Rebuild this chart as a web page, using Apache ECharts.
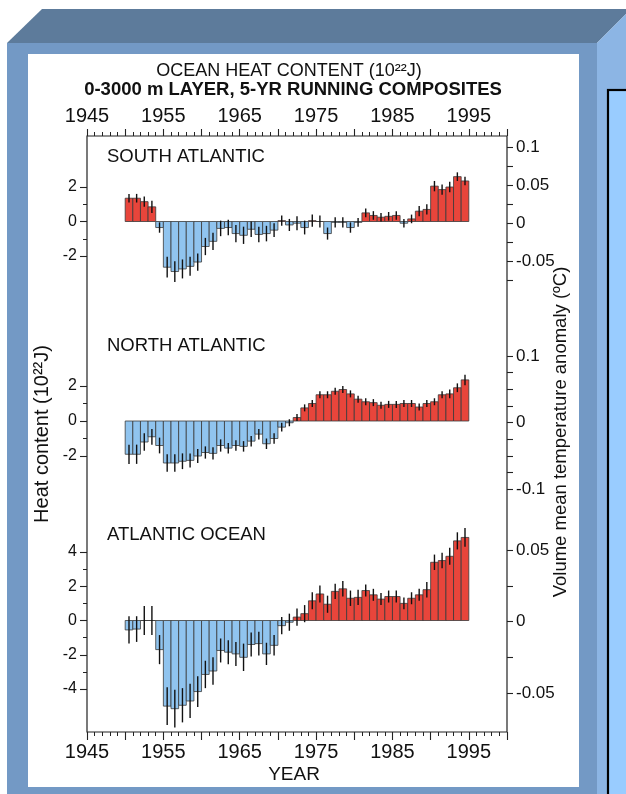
<!DOCTYPE html>
<html>
<head>
<meta charset="utf-8">
<script src="https://cdn.jsdelivr.net/npm/echarts@6/dist/echarts.min.js"></script>
<style>
  html, body { margin: 0; padding: 0; background: #fff; }
  #wrap { position: relative; width: 626px; height: 794px; overflow: hidden; }
  #bg, #chart { position: absolute; left: 0; top: 0; width: 626px; height: 794px; }
</style>
</head>
<body>
<div id="wrap">
  <svg id="bg" width="626" height="794" xmlns="http://www.w3.org/2000/svg">
    <rect x="0" y="0" width="626" height="794" fill="#ffffff"/>
    <polygon points="7,43 42,9 626,9 626,14 597,43" fill="#5d7b9b"/>
    <rect x="7" y="43" width="590" height="751" fill="#7399c5"/>
    <polygon points="597,43 626,14 626,794 597,794" fill="#8cb5e4"/>
    <rect x="28" y="54" width="551" height="733" fill="#ffffff"/>
    <rect x="608" y="90" width="30" height="720" fill="#99ccff" stroke="#000" stroke-width="2.2"/>
  </svg>
  <div id="chart"></div>
</div>
<script>
// ---- data (heat content anomaly, 10^22 J, 5-yr running composites) ----
const years = [1950,1951,1952,1953,1954,1955,1956,1957,1958,1959,
               1960,1961,1962,1963,1964,1965,1966,1967,1968,1969,
               1970,1971,1972,1973,1974,1975,1976,1977,1978,1979,
               1980,1981,1982,1983,1984,1985,1986,1987,1988,1989,
               1990,1991,1992,1993,1994];
const southAtlantic = [1.35,1.35,1.15,0.85,-0.35,-2.65,-2.9,-2.75,-2.6,-2.35,
                       -1.45,-1.15,-0.4,-0.35,-0.7,-0.8,-0.45,-0.75,-0.7,-0.5,
                       0.05,-0.2,-0.1,-0.35,0.05,0,-0.7,-0.05,-0.05,-0.35,
                       -0.05,0.5,0.35,0.25,0.3,0.35,-0.1,0.15,0.6,0.7,
                       2.05,1.85,2.0,2.6,2.35];
const southAtlanticErr = [0.25,0.25,0.3,0.35,0.3,0.6,0.6,0.55,0.55,0.5,
                          0.5,0.5,0.45,0.45,0.5,0.5,0.45,0.45,0.45,0.4,
                          0.3,0.35,0.4,0.4,0.35,0.35,0.35,0.3,0.3,0.3,
                          0.25,0.25,0.25,0.25,0.25,0.25,0.25,0.25,0.3,0.3,
                          0.3,0.3,0.3,0.25,0.25];
const northAtlantic = [-1.9,-1.9,-1.2,-0.9,-1.4,-2.4,-2.4,-2.3,-2.25,-2.0,
                       -1.8,-1.85,-1.4,-1.55,-1.4,-1.45,-1.15,-0.75,-1.3,-1.0,
                       -0.35,-0.1,0.2,0.75,1.0,1.5,1.5,1.7,1.8,1.55,
                       1.25,1.1,1.05,0.9,0.95,0.95,1.0,1.0,0.8,1.0,
                       1.1,1.5,1.55,1.9,2.35];
const northAtlanticErr = [0.55,0.55,0.5,0.45,0.45,0.5,0.5,0.45,0.4,0.4,
                          0.35,0.35,0.35,0.3,0.3,0.3,0.3,0.3,0.3,0.3,
                          0.25,0.2,0.2,0.2,0.2,0.2,0.2,0.2,0.2,0.2,
                          0.2,0.2,0.2,0.2,0.2,0.2,0.2,0.2,0.2,0.2,
                          0.2,0.2,0.25,0.25,0.3];
const atlanticOcean = [-0.55,-0.5,0,0,-1.7,-5.0,-5.15,-4.95,-4.7,-4.15,
                       -3.15,-2.95,-1.75,-1.85,-1.95,-2.15,-1.4,-1.35,-1.95,-1.45,
                       -0.3,-0.1,0.2,0.4,1.15,1.55,0.95,1.7,1.85,1.3,
                       1.35,1.75,1.5,1.25,1.4,1.4,1.0,1.3,1.5,1.8,
                       3.4,3.5,3.75,4.65,4.85];
const atlanticOceanErr = [0.8,0.75,0.85,0.85,0.85,1.1,1.1,1.0,1.0,0.9,
                          0.8,0.8,0.7,0.7,0.7,0.8,0.7,0.7,0.65,0.6,
                          0.5,0.5,0.5,0.5,0.5,0.5,0.5,0.45,0.45,0.45,
                          0.45,0.35,0.35,0.35,0.35,0.35,0.35,0.35,0.35,0.45,
                          0.45,0.45,0.5,0.5,0.55];
const panelNames = ['SOUTH ATLANTIC', 'NORTH ATLANTIC', 'ATLANTIC OCEAN'];
const yearTickLabels = [1945, 1955, 1965, 1975, 1985, 1995];

// ---- style ----
const FONT = "'Liberation Sans', Arial, Helvetica, sans-serif";
const RED = '#e8453b';
const BLUE = '#90c4ef';
const INK = '#111';
const PL = 87, PW = 420;   // plot left & width

// panel layouts: left axis (heat content) and right axis (temperature)
const panels = [
  { data: southAtlantic, err: southAtlanticErr,
    left:  { top: 187, height: 69,  min: -2, max: 2, interval: 2 },
    right: { top: 147, height: 133, min: -0.075, max: 0.1, interval: 0.025, labelStep: 0.05 },
    labelY: 157 },
  { data: northAtlantic, err: northAtlanticErr,
    left:  { top: 386, height: 70,  min: -2, max: 2, interval: 2 },
    right: { top: 356, height: 133, min: -0.1, max: 0.1, interval: 0.025, labelStep: 0.1 },
    labelY: 346 },
  { data: atlanticOcean, err: atlanticOceanErr,
    left:  { top: 552, height: 137, min: -4, max: 4, interval: 2 },
    right: { top: 550, height: 143, min: -0.05, max: 0.05, interval: 0.025, labelStep: 0.05 },
    labelY: 535 }
];

const grid = [{ left: PL, top: 136, width: PW, height: 596, show: true,
                borderColor: '#222', borderWidth: 1.2, backgroundColor: 'transparent' }];
const xAxis = [];
const yAxis = [];
const series = [];

function yearFmt(v) { return yearTickLabels.indexOf(Math.round(v)) >= 0 ? String(Math.round(v)) : ''; }
['bottom', 'top'].forEach(function (pos) {
  xAxis.push({
    type: 'value', gridIndex: 0, position: pos, min: 1945, max: 2000, interval: 5,
    axisLine: { show: false },
    axisTick: { show: true, length: pos === 'bottom' ? 8 : 7, lineStyle: { color: '#222', width: 1.1 } },
    minorTick: { show: true, splitNumber: 5, length: 4, lineStyle: { color: '#222', width: 1 } },
    splitLine: { show: false }, minorSplitLine: { show: false },
    axisLabel: { formatter: yearFmt, margin: 10, fontSize: 20, color: INK, fontFamily: FONT,
                 showMinLabel: true, showMaxLabel: true }
  });
});
yAxis.push({ type: 'value', gridIndex: 0, show: false, min: 0, max: 1 });

function renderBar(params, api) {
  const x = api.value(0), v = api.value(1), e = api.value(2);
  const p0 = api.coord([x, 0]);
  const p1 = api.coord([x + 1, v]);
  const a = api.coord([x + 0.5, v + e]);
  const b = api.coord([x + 0.5, v - e]);
  return {
    type: 'group',
    children: [
      { type: 'rect',
        shape: { x: p0[0], y: Math.min(p0[1], p1[1]), width: p1[0] - p0[0], height: Math.abs(p1[1] - p0[1]) },
        style: { fill: v >= 0 ? RED : BLUE, stroke: '#3a3a3a', lineWidth: 0.8 } },
      { type: 'line', shape: { x1: a[0], y1: a[1], x2: b[0], y2: b[1] },
        style: { stroke: INK, lineWidth: 1.4 } }
    ]
  };
}

panels.forEach(function (p, i) {
  // left grid with bars
  const gl = grid.length;
  grid.push({ left: PL, width: PW, top: p.left.top, height: p.left.height });
  xAxis.push({ type: 'value', gridIndex: gl, min: 1945, max: 2000, show: false });
  yAxis.push({
    type: 'value', gridIndex: gl, position: 'left', min: p.left.min, max: p.left.max, interval: p.left.interval,
    axisLine: { show: false },
    axisTick: { show: true, length: 7, lineStyle: { color: '#222', width: 1.1 } },
    minorTick: { show: true, splitNumber: 2, length: 4, lineStyle: { color: '#222', width: 1 } },
    splitLine: { show: false }, minorSplitLine: { show: false },
    axisLabel: { margin: 10, fontSize: 16, color: INK, fontFamily: FONT }
  });
  series.push({
    type: 'custom', name: panelNames[i], xAxisIndex: xAxis.length - 1, yAxisIndex: yAxis.length - 1,
    renderItem: renderBar, clip: false, silent: true,
    data: years.map(function (y, k) { return [y, p.data[k], p.err[k]]; }),
    z: 3
  });
  // right grid (temperature axis)
  const gr = grid.length;
  grid.push({ left: PL, width: PW, top: p.right.top, height: p.right.height });
  xAxis.push({ type: 'value', gridIndex: gr, min: 1945, max: 2000, show: false });
  const step = p.right.labelStep;
  yAxis.push({
    type: 'value', gridIndex: gr, position: 'right', min: p.right.min, max: p.right.max, interval: p.right.interval,
    axisLine: { show: false },
    axisTick: { show: true, length: 6, lineStyle: { color: '#222', width: 1.1 } },
    splitLine: { show: false },
    axisLabel: { margin: 9, fontSize: 17, color: INK, fontFamily: FONT,
      formatter: function (v) {
        const r = Math.round(v * 1000);
        const s = Math.round(step * 1000);
        if (r % s !== 0) return '';
        return String(+(r / 1000).toFixed(3));
      } }
  });
});

const graphic = [
  { type: 'text', x: 289, y: 71, style: { text: 'OCEAN HEAT CONTENT (10\u00B2\u00B2J)', font: '18px ' + FONT,
      fill: INK, textAlign: 'center', textVerticalAlign: 'middle' } },
  { type: 'text', x: 293, y: 90, style: { text: '0-3000 m LAYER, 5-YR RUNNING COMPOSITES', font: 'bold 18.5px ' + FONT,
      fill: INK, textAlign: 'center', textVerticalAlign: 'middle' } },
  { type: 'text', x: 294, y: 775, style: { text: 'YEAR', font: '19px ' + FONT,
      fill: INK, textAlign: 'center', textVerticalAlign: 'middle' } },
  { type: 'text', x: 42, y: 434, rotation: Math.PI / 2, style: { text: 'Heat content (10\u00B2\u00B2J)', font: '20px ' + FONT,
      fill: INK, textAlign: 'center', textVerticalAlign: 'middle' } },
  { type: 'text', x: 561, y: 432, rotation: Math.PI / 2, style: { text: 'Volume mean temperature anomaly (\u00BAC)', font: '18.5px ' + FONT,
      fill: INK, textAlign: 'center', textVerticalAlign: 'middle' } }
];
panels.forEach(function (p, i) {
  graphic.push({ type: 'text', x: 107, y: p.labelY, style: { text: panelNames[i], font: '18.5px ' + FONT,
      fill: INK, textAlign: 'left', textVerticalAlign: 'middle' } });
});

const chart = echarts.init(document.getElementById('chart'), null, { renderer: 'canvas', width: 626, height: 794 });
chart.setOption({
  backgroundColor: 'transparent',
  animation: false,
  grid: grid, xAxis: xAxis, yAxis: yAxis, series: series, graphic: graphic
});
</script>
</body>
</html>
